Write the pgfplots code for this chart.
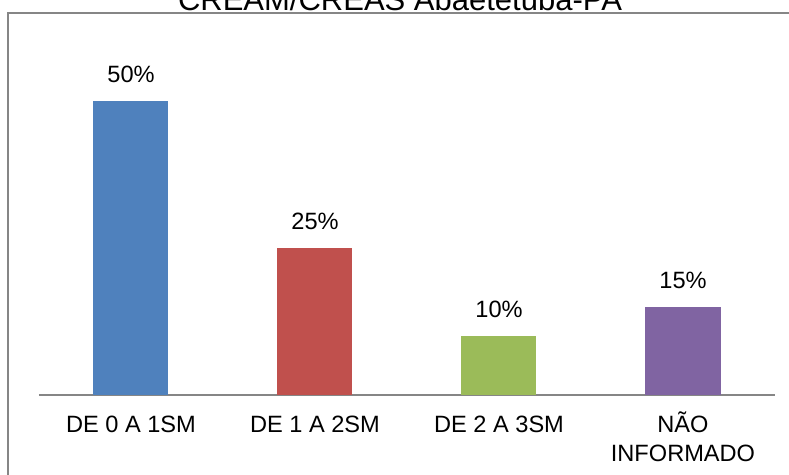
\documentclass[border=0pt]{standalone}
\usepackage{pgfplots}
\pgfplotsset{compat=1.18}
\usepackage{fontspec}
\setmainfont{Liberation Sans}
\definecolor{cblue}{RGB}{79,129,189}
\definecolor{cred}{RGB}{192,80,77}
\definecolor{cgreen}{RGB}{155,187,89}
\definecolor{cpurple}{RGB}{128,100,162}
\definecolor{fgray}{RGB}{134,134,134}
\begin{document}
\begin{tikzpicture}
\useasboundingbox (0pt,0pt) rectangle (394.5pt,237.5pt);
\clip (0pt,0pt) rectangle (394.5pt,237.5pt);
\draw[fgray,line width=1pt] (4pt,231pt) rectangle (420pt,-20pt);
\node[font=\fontsize{15.5}{18}\selectfont,anchor=base,inner sep=0pt] at (200pt,232pt) {CREAM/CREAS Abaetetuba-PA};
\begin{axis}[
  at={(19.5pt,40pt)}, anchor=south west,
  scale only axis, width=368pt, height=176.4pt,
  xmin=-0.5, xmax=3.5, ymin=0, ymax=60,
  axis x line=bottom, axis y line=none,
  x axis line style={fgray,line width=1pt,-},
  xtick={0,1,2,3},
  xticklabels={\strut DE 0 A 1SM,\strut DE 1 A 2SM,\strut DE 2 A 3SM,\strut NÃO\\INFORMADO},
  major tick length=0pt,
  xticklabel style={font=\fontsize{11.8}{14.5}\selectfont,align=center,anchor=north,inner sep=0pt,yshift=-8.35pt},
  ytick=\empty,
  ybar=0pt, bar width=37.5pt, bar shift=0pt,
  /pgf/number format/assume math mode=true,
  nodes near coords={\pgfmathprintnumber{\pgfplotspointmeta}\%},
  every node near coord/.append style={font=\fontsize{11.8}{14}\selectfont,black,anchor=south,inner sep=0pt,text depth=0pt,yshift=9pt},
  clip=false,
]
\addplot[draw=none,fill=cblue] coordinates {(0,50)};
\addplot[draw=none,fill=cred] coordinates {(1,25)};
\addplot[draw=none,fill=cgreen] coordinates {(2,10)};
\addplot[draw=none,fill=cpurple] coordinates {(3,15)};
\end{axis}
\end{tikzpicture}
\end{document}
